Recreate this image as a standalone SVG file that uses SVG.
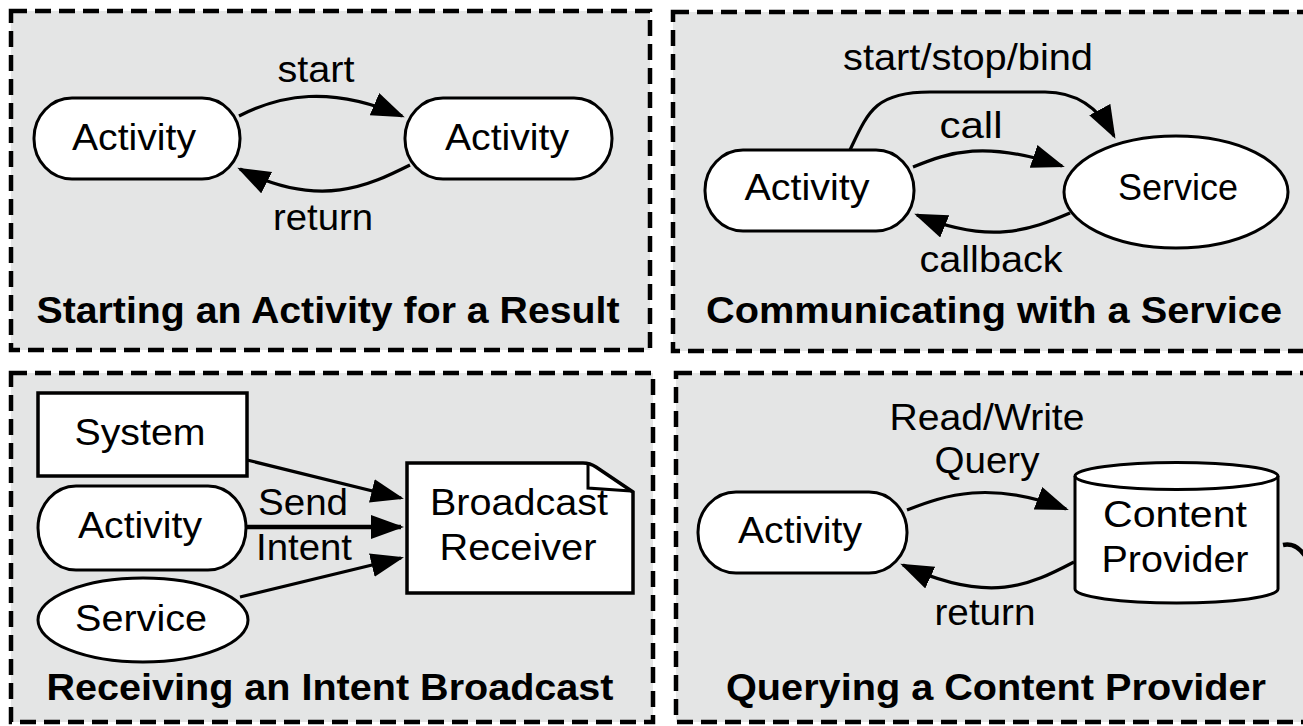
<svg xmlns="http://www.w3.org/2000/svg" width="1303" height="726" viewBox="0 0 1303 726">
<defs>
<style>
.panel{fill:#e4e5e5;stroke:#000;stroke-width:4.5;stroke-dasharray:16 8}
.node{fill:#fff;stroke:#000;stroke-width:3}
.edge{fill:none;stroke:#000;stroke-width:3.2}
text{font-family:"Liberation Sans",Arial,Helvetica,sans-serif;font-size:36px;fill:#000}
.lbl{text-anchor:middle}
.title{text-anchor:middle;font-weight:bold}
</style>
<marker id="ah" markerUnits="userSpaceOnUse" markerWidth="36" markerHeight="28" refX="30" refY="12" orient="auto">
<path d="M0,0 L33,12 L0,24 z" fill="#000"/>
</marker>
</defs>
<rect width="1303" height="726" fill="#fff"/>

<g id="panel-activity-result">
<rect class="panel" x="11" y="11" width="639" height="339"/>
<text class="title" x="328" y="323" textLength="583" lengthAdjust="spacingAndGlyphs">Starting an Activity for a Result</text>
</g>
<g id="panel-service">
<rect class="panel" x="673" y="12" width="650" height="339"/>
<text class="title" x="994" y="323" textLength="576" lengthAdjust="spacingAndGlyphs">Communicating with a Service</text>
</g>
<g id="panel-broadcast">
<rect class="panel" x="11" y="373" width="642" height="349"/>
<text class="title" x="330" y="700" textLength="567" lengthAdjust="spacingAndGlyphs">Receiving an Intent Broadcast</text>
</g>
<g id="panel-provider">
<rect class="panel" x="676" y="373" width="650" height="349"/>
<text class="title" x="996" y="700" textLength="540" lengthAdjust="spacingAndGlyphs">Querying a Content Provider</text>
</g>

<g id="p1-activity-a">
<rect class="node" x="34" y="98" width="206" height="81" rx="38" ry="40"/>
<text class="lbl" x="134" y="150" textLength="124" lengthAdjust="spacingAndGlyphs">Activity</text>
</g>
<g id="p1-activity-b">
<rect class="node" x="405" y="98" width="207" height="81" rx="38" ry="40"/>
<text class="lbl" x="507" y="150" textLength="124" lengthAdjust="spacingAndGlyphs">Activity</text>
</g>

<g id="p2-activity">
<rect class="node" x="705" y="150" width="209" height="81" rx="38" ry="40"/>
<text class="lbl" x="807" y="200" textLength="125" lengthAdjust="spacingAndGlyphs">Activity</text>
</g>
<g id="p2-service">
<ellipse class="node" cx="1176" cy="192" rx="112" ry="56"/>
<text class="lbl" x="1178" y="200" textLength="120" lengthAdjust="spacingAndGlyphs">Service</text>
</g>

<g id="p3-system">
<rect class="node" x="38" y="393" width="209" height="83" style="stroke-width:3.5"/>
<text class="lbl" x="140" y="445" textLength="131" lengthAdjust="spacingAndGlyphs">System</text>
</g>
<g id="p3-activity">
<rect class="node" x="38" y="486" width="208" height="84" rx="38" ry="42"/>
<text class="lbl" x="140" y="538" textLength="124" lengthAdjust="spacingAndGlyphs">Activity</text>
</g>
<g id="p3-service">
<ellipse class="node" cx="143" cy="620" rx="105" ry="42"/>
<text class="lbl" x="141" y="631" textLength="132" lengthAdjust="spacingAndGlyphs">Service</text>
</g>
<g id="p3-broadcast-receiver">
<path class="node" d="M407,463 L583,463 Q590,463 596,467 L633,492 L633,593 L407,593 Z" style="stroke-width:3.5"/>
<path d="M588,464 L588,488 L631,491" fill="none" stroke="#000" stroke-width="3"/>
<text class="lbl" x="519" y="515" textLength="178" lengthAdjust="spacingAndGlyphs">Broadcast</text>
<text class="lbl" x="518" y="560" textLength="157" lengthAdjust="spacingAndGlyphs">Receiver</text>
</g>

<g id="p4-activity">
<rect class="node" x="698" y="492" width="209" height="81" rx="38" ry="40"/>
<text class="lbl" x="800" y="543" textLength="124" lengthAdjust="spacingAndGlyphs">Activity</text>
</g>
<g id="p4-content-provider">
<path class="node" d="M1075,476 A101.5,13.5 0 0 1 1278,476 L1278,589 A101.5,14 0 0 1 1075,589 Z"/>
<path d="M1075,476 A101.5,13.5 0 0 0 1278,476" fill="none" stroke="#000" stroke-width="3"/>
<text class="lbl" x="1175" y="527" textLength="144" lengthAdjust="spacingAndGlyphs">Content</text>
<text class="lbl" x="1175" y="572" textLength="147" lengthAdjust="spacingAndGlyphs">Provider</text>
</g>

<g id="connectors">
<path class="edge" d="M239,116 C280,95 330,85 402,116" marker-end="url(#ah)"/>
<text class="lbl" x="316" y="82" textLength="77" lengthAdjust="spacingAndGlyphs">start</text>
<path class="edge" d="M410,165 C370,185 320,210 240,169" marker-end="url(#ah)"/>
<text class="lbl" x="323" y="230" textLength="100" lengthAdjust="spacingAndGlyphs">return</text>

<path class="edge" d="M850,150 C868,112 875,92 930,92 L1045,92 C1078,92 1100,110 1114,136" marker-end="url(#ah)"/>
<text class="lbl" x="968" y="70" textLength="250" lengthAdjust="spacingAndGlyphs">start/stop/bind</text>
<path class="edge" d="M913,167 C950,152 985,140 1062,166" marker-end="url(#ah)"/>
<text class="lbl" x="971" y="138" textLength="63" lengthAdjust="spacingAndGlyphs">call</text>
<path class="edge" d="M1070,213 C1030,230 990,245 917,215" marker-end="url(#ah)"/>
<text class="lbl" x="991" y="272" textLength="143" lengthAdjust="spacingAndGlyphs">callback</text>

<path class="edge" d="M247,460 L401,498" marker-end="url(#ah)"/>
<path class="edge" d="M246,527 L401,527" style="stroke-width:4.5" marker-end="url(#ah)"/>
<path class="edge" d="M240,597 L401,558" marker-end="url(#ah)"/>
<text x="258" y="515" textLength="90" lengthAdjust="spacingAndGlyphs">Send</text>
<text x="256" y="560" textLength="96" lengthAdjust="spacingAndGlyphs">Intent</text>

<path class="edge" d="M907,510 C945,495 990,480 1066,509" marker-end="url(#ah)"/>
<text class="lbl" x="987" y="430" textLength="195" lengthAdjust="spacingAndGlyphs">Read/Write</text>
<text class="lbl" x="987" y="473" textLength="105" lengthAdjust="spacingAndGlyphs">Query</text>
<path class="edge" d="M1074,562 C1030,585 990,605 903,565" marker-end="url(#ah)"/>
<text class="lbl" x="985" y="625" textLength="101" lengthAdjust="spacingAndGlyphs">return</text>
<path class="edge" d="M1283,545 C1292,543 1300,548 1306,557" style="stroke-width:4.5"/>
</g>
</svg>
